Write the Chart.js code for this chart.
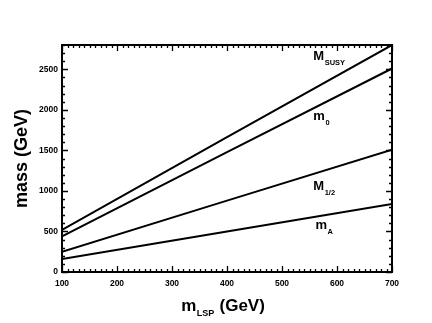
<!DOCTYPE html>
<html>
<head>
<meta charset="utf-8">
<script src="https://cdn.jsdelivr.net/npm/chart.js@4/dist/chart.umd.min.js"></script>
<style>
html,body{margin:0;padding:0;background:#fff;}
#wrap{width:432px;height:323px;position:relative;}
</style>
</head>
<body>
<div id="wrap"><canvas id="c"></canvas></div>
<script>
// ---- data ----
const mLSP = [100, 400, 700];
const M_SUSY = [520, 1665, 2800];
const m_0 = [440, 1478, 2510];
const M_half = [250, 880, 1510];
const m_A = [160, 500, 840];
const seriesNames = [["M","SUSY"],["m","0"],["M","1/2"],["m","A"]];
const labelX = [557, 557, 557, 561];
const labelY = [2614, 1874, 1010, 530];
const xTickValues = [100, 200, 300, 400, 500, 600, 700];
const yTickValues = [0, 500, 1000, 1500, 2000, 2500];
const xTitle = ["m", "LSP", " (GeV)"];
const yTitle = "mass (GeV)";

const FONT = "'Liberation Sans', Arial, sans-serif";

const decor = {
  id: 'decor',
  afterDraw(chart) {
    const ctx = chart.ctx;
    const xs = chart.scales.x, ys = chart.scales.y;
    const a = chart.chartArea;
    ctx.save();
    ctx.strokeStyle = '#000';
    ctx.lineWidth = 1.3;
    ctx.beginPath();
    for (let v = 100; v <= 700; v += 10) {
      const px = Math.round(xs.getPixelForValue(v)) + 0.5;
      const len = (v % 100 === 0) ? 6 : 3;
      ctx.moveTo(px, a.bottom); ctx.lineTo(px, a.bottom - len);
      ctx.moveTo(px, a.top); ctx.lineTo(px, a.top + len);
    }
    for (let v = 0; v <= 2800; v += 100) {
      const py = Math.round(ys.getPixelForValue(v)) + 0.5;
      const len = (v % 500 === 0) ? 6 : 3;
      ctx.moveTo(a.left, py); ctx.lineTo(a.left + len, py);
      ctx.moveTo(a.right, py); ctx.lineTo(a.right - len, py);
    }
    ctx.stroke();
    // frame
    ctx.lineWidth = 2;
    ctx.strokeRect(a.left, a.top, a.right - a.left, a.bottom - a.top);
    // series labels
    ctx.fillStyle = '#000';
    ctx.textBaseline = 'alphabetic';
    ctx.textAlign = 'left';
    seriesNames.forEach((n, i) => {
      const px = xs.getPixelForValue(labelX[i]);
      const py = ys.getPixelForValue(labelY[i]);
      ctx.font = 'bold 13px ' + FONT;
      ctx.fillText(n[0], px, py);
      const w = ctx.measureText(n[0]).width;
      ctx.font = 'bold 7.5px ' + FONT;
      ctx.fillText(n[1], px + w + 0.5, py + 5);
    });
    // x title
    ctx.font = 'bold 17px ' + FONT;
    const w1 = ctx.measureText(xTitle[0]).width;
    const w3 = ctx.measureText(xTitle[2]).width;
    ctx.font = 'bold 9px ' + FONT;
    const w2 = ctx.measureText(xTitle[1]).width;
    const total = w1 + w2 + 1 + w3;
    let sx = (a.left + a.right) / 2 - total / 2 - 4;
    const by = 311;
    ctx.font = 'bold 17px ' + FONT;
    ctx.fillText(xTitle[0], sx, by);
    ctx.font = 'bold 9px ' + FONT;
    ctx.fillText(xTitle[1], sx + w1 + 0.5, by + 5);
    ctx.font = 'bold 17px ' + FONT;
    ctx.fillText(xTitle[2], sx + w1 + w2 + 1, by);
    ctx.restore();
  }
};

const mk = (d) => ({
  data: mLSP.map((x, i) => ({x: x, y: d[i]})),
  borderColor: '#000', borderWidth: 2, pointRadius: 0, fill: false, tension: 0
});

new Chart(document.getElementById('c'), {
  type: 'line',
  data: { datasets: [mk(M_SUSY), mk(m_0), mk(M_half), mk(m_A)] },
  options: {
    responsive: true, maintainAspectRatio: false, animation: false,
    layout: { padding: { left: 0, top: 45, right: 40, bottom: 0 } },
    plugins: { legend: { display: false }, tooltip: { enabled: false } },
    scales: {
      x: {
        type: 'linear', min: 100, max: 700,
        grid: { display: false, drawTicks: false },
        border: { display: false },
        afterBuildTicks: (s) => { s.ticks = xTickValues.map(v => ({ value: v })); },
        ticks: { padding: 7, color: '#000', autoSkip: false,
                 callback: (v) => String(v),
                 font: { family: FONT, weight: 'bold', size: 8.5 }, maxRotation: 0 },
        afterFit: (s) => { s.height = 51; }
      },
      y: {
        type: 'linear', min: 0, max: 2800,
        grid: { display: false, drawTicks: false },
        border: { display: false },
        afterBuildTicks: (s) => { s.ticks = yTickValues.map(v => ({ value: v })); },
        ticks: { padding: 4, color: '#000', autoSkip: false,
                 callback: (v) => String(v),
                 font: { family: FONT, weight: 'bold', size: 8.5 } },
        title: { display: true, text: yTitle, color: '#000', padding: { top: 11, bottom: 0 },
                 font: { family: FONT, weight: 'bold', size: 18 } },
        afterFit: (s) => { s.width = 62; }
      }
    }
  },
  plugins: [decor]
});
</script>
</body>
</html>
